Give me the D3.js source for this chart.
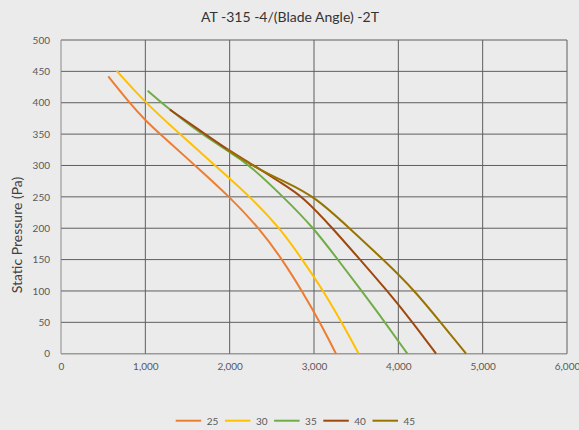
<!DOCTYPE html>
<html><head><meta charset="utf-8">
<script src="https://cdn.jsdelivr.net/npm/d3@7"></script>
<style>
html,body{margin:0;padding:0;background:#ebebeb;}
svg{display:block;}
text{font-family:Lato,"Open Sans","Liberation Sans",sans-serif;}
</style></head>
<body><svg id="c" width="579" height="430"></svg>
<script>
const title = "AT -315 -4/(Blade Angle) -2T";
const yTitle = "Static Pressure (Pa)";
const seriesNames = ["25","30","35","40","45"];
const seriesColors = ["#ED7D31","#FFC000","#70AD47","#9E480E","#997300"];
const s25 = [[561,442],[812,400],[1000,372],[1175,350],[1590,300],[2000,250],[2350,200],[2625,150],[2858,100],[3070,50],[3261,0]];
const s30 = [[660,451],[1000,400],[1411,350],[1826,300],[2245,250],[2597,200],[2862,150],[3112,100],[3328,50],[3530,0]];
const s35 = [[1028,419],[1190,400],[1660,350],[2000,322],[2241,300],[2636,250],[3000,200],[3282,150],[3565,100],[3842,50],[4107,0]];
const s40 = [[1292,389],[1708,350],[2000,323],[2290,300],[2600,273],[2874,250],[3220,200],[3546,150],[3870,100],[4170,50],[4447,0]];
const s45 = [[1960,326],[2360,292],[2676,273],[3012,250],[3420,200],[3822,150],[4198,100],[4500,50],[4803,0]];
const seriesData = [s25,s30,s35,s40,s45];
const xTicks = [0,1000,2000,3000,4000,5000,6000];
const yTicks = [0,50,100,150,200,250,300,350,400,450,500];

const svg = d3.select("#c");
const x = d3.scaleLinear().domain([0,6000]).range([61,567]);
const y = d3.scaleLinear().domain([0,500]).range([353.7,40]);

svg.append("text").attr("x",290).attr("y",22).attr("text-anchor","middle")
  .attr("font-size",14).attr("fill","#333").text(title);

// gridlines
const g = svg.append("g");
g.selectAll("line.h").data(yTicks).join("line")
  .attr("x1",x(0)).attr("x2",x(6000)).attr("y1",d=>y(d)).attr("y2",d=>y(d))
  .attr("stroke",d=>d===0?"#9a9a9a":"#5e5e5e").attr("stroke-width",d=>d===0?1.5:1);
g.selectAll("line.v").data(xTicks).join("line")
  .attr("y1",y(0)).attr("y2",y(500)).attr("x1",d=>x(d)).attr("x2",d=>x(d))
  .attr("stroke",d=>d===0?"#8a8a8a":"#5e5e5e").attr("stroke-width",1);

// axes
const fmt = d3.format(",");
const ax = svg.append("g").attr("transform",`translate(0,${y(0)})`)
  .call(d3.axisBottom(x).tickValues(xTicks).tickFormat(fmt).tickSize(0).tickPadding(9));
ax.select(".domain").remove();
ax.selectAll("text").attr("font-size",10).attr("fill","#595959").style("font-family","Lato,'Open Sans',sans-serif");
const ay = svg.append("g").attr("transform",`translate(50,0)`)
  .call(d3.axisLeft(y).tickValues(yTicks).tickSize(0).tickPadding(0));
ay.select(".domain").remove();
ay.selectAll("text").attr("font-size",10).attr("fill","#595959").style("font-family","Lato,'Open Sans',sans-serif");

svg.append("text").attr("transform",`translate(22,235) rotate(-90)`)
  .attr("text-anchor","middle").attr("font-size",14).attr("fill","#404040").text(yTitle);

const line = d3.line().x(d=>x(d[0])).y(d=>y(d[1])).curve(d3.curveBasis);
svg.append("g").selectAll("path").data(seriesData).join("path")
  .attr("d",line).attr("fill","none")
  .attr("stroke",(d,i)=>seriesColors[i]).attr("stroke-width",2);

// legend
const lg = svg.append("g").selectAll("g").data(seriesNames).join("g")
  .attr("transform",(d,i)=>`translate(${175.7+i*49.2},420.7)`);
lg.append("line").attr("x1",0).attr("x2",25.5).attr("y1",0).attr("y2",0)
  .attr("stroke",(d,i)=>seriesColors[i]).attr("stroke-width",2);
lg.append("text").attr("x",31).attr("y",4).attr("font-size",10).attr("fill","#595959").text(d=>d);
</script></body></html>
